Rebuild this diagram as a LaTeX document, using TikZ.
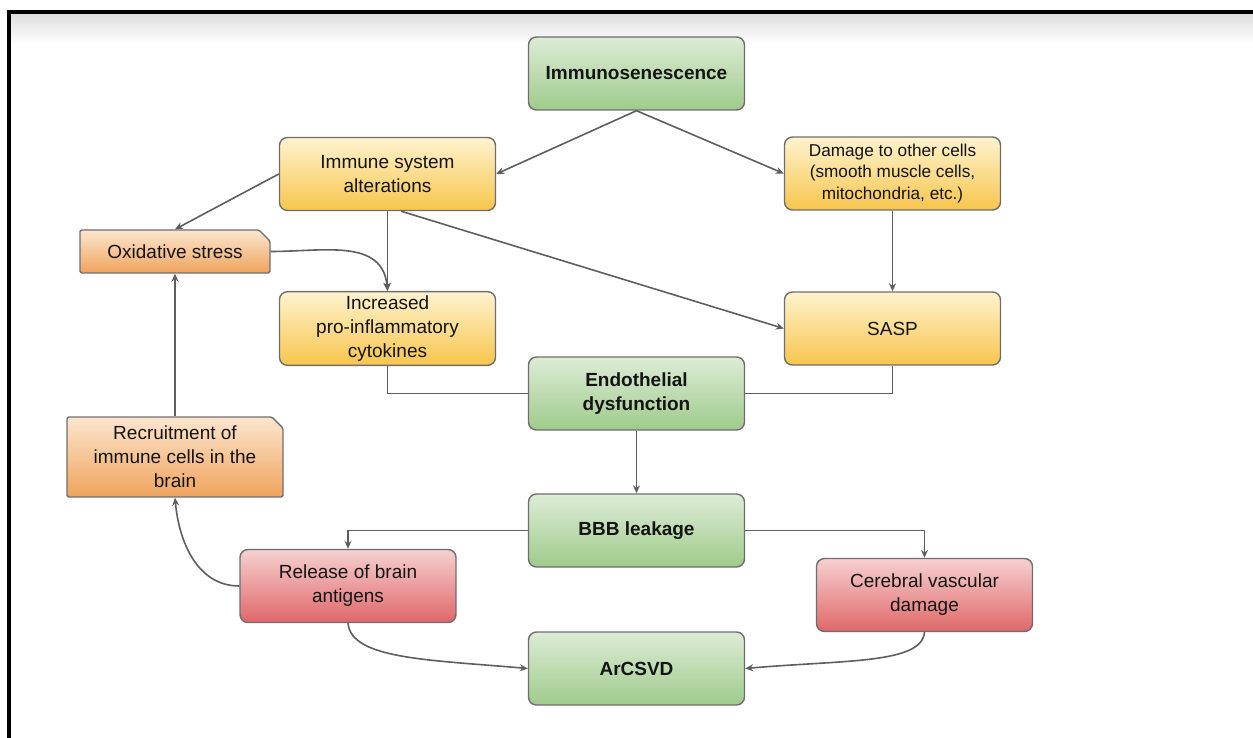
\documentclass[tikz,border=0pt]{standalone}
\usepackage{fontspec}
\setmainfont{Liberation Sans}
\usepackage{tikz}
\usetikzlibrary{arrows.meta,shapes.misc}

\definecolor{gtop}{HTML}{DDECD6}
\definecolor{gbot}{HTML}{9FCB8C}
\definecolor{ytop}{HTML}{FFF3CF}
\definecolor{ybot}{HTML}{F7C54C}
\definecolor{otop}{HTML}{FCE6CF}
\definecolor{obot}{HTML}{F0A35C}
\definecolor{rtop}{HTML}{F6D0D0}
\definecolor{rbot}{HTML}{E06769}
\definecolor{boxline}{HTML}{6E6E6E}
\definecolor{edgegray}{HTML}{5E5E5E}

\begin{document}
\begin{tikzpicture}[x=0.5pt, y=0.5pt,
  box/.style={draw=boxline, line width=0.7pt, rounded corners=4pt,
    minimum width=108pt, minimum height=36.5pt, inner sep=2pt,
    align=center, text=black!92, font=\fontsize{9.5}{12}\selectfont},
  gbox/.style={box, top color=gtop, bottom color=gbot,
    font=\fontsize{9.5}{12}\selectfont\bfseries},
  ybox/.style={box, top color=ytop, bottom color=ybot},
  rbox/.style={box, top color=rtop, bottom color=rbot},
  obox/.style={box, rounded corners=0.8pt, top color=otop, bottom color=obot,
    chamfered rectangle, chamfered rectangle corners=north east,
    chamfered rectangle xsep=3pt, chamfered rectangle ysep=2.5pt},
  link/.style={draw=edgegray, line width=0.8pt, -{Stealth[length=4pt,width=3.5pt]}},
  wire/.style={draw=edgegray, line width=0.8pt}]
\useasboundingbox (0,0) rectangle (1253,-738);

%frame
\shade[top color=black!13, bottom color=white] (10,-13) rectangle (1253,-44);
\draw[line width=1.6pt] (9,-740) |- (1253,-12);

%green chain
\node[gbox] (imsen)  at (636.5,-73.5) {Immunosenescence};
\node[gbox] (endo)   at (636.5,-393.5) {Endothelial\\dysfunction};
\node[gbox] (bbb)    at (636.5,-530.5) {BBB leakage};
\node[gbox] (arcsvd) at (636.5,-668.5) {ArCSVD};

%yellow
\node[ybox] (immune) at (387.5,-174) {Immune system\\alterations};
\node[ybox, font=\fontsize{8.6}{10.9}\selectfont] (damage) at (892.5,-173.5)
  {Damage to other cells\\(smooth muscle cells,\\mitochondria, etc.)};
\node[ybox] (incr) at (387.5,-328.5) {Increased\\pro-inflammatory\\cytokines};
\node[ybox] (sasp) at (892.5,-328.5) {SASP};

%orange
\node[obox, minimum width=95pt, minimum height=21.5pt] (oxid) at (175,-251.5) {Oxidative stress};
\node[obox, minimum height=37pt] (recr) at (175,-457) {Recruitment of\\immune cells in the\\brain};

%red
\node[rbox] (rel) at (348,-586) {Release of brain\\antigens};
\node[rbox] (cer) at (924.5,-595) {Cerebral vascular\\damage};

%arrows
\draw[link] (imsen.south) -- (immune.east);
\draw[link] (imsen.south) -- (damage.west);
\draw[link] (immune.west) -- (oxid.north);
\draw[link] (immune.south) -- (incr.north);
\draw[link] (immune.290) -- (sasp.west);
\draw[link] (damage.south) -- (sasp.north);
\draw[link] (oxid.east) to[out=0, in=95, looseness=1.1] (incr.north);
\draw[wire] (incr.south) |- (endo.west);
\draw[wire] (sasp.south) |- (endo.east);
\draw[link] (endo.south) -- (bbb.north);
\draw[link] (bbb.west) -| (rel.north);
\draw[link] (bbb.east) -| (cer.north);
\draw[link] (rel.west) to[out=180, in=-85] (recr.south);
\draw[link] (recr.north) -- (oxid.south);
\draw[link] (rel.south) to[out=-85, in=175, out distance=18pt, in distance=50pt] (arcsvd.west);
\draw[link] (cer.south) to[out=-95, in=5, out distance=16pt, in distance=50pt] (arcsvd.east);
\end{tikzpicture}
\end{document}
